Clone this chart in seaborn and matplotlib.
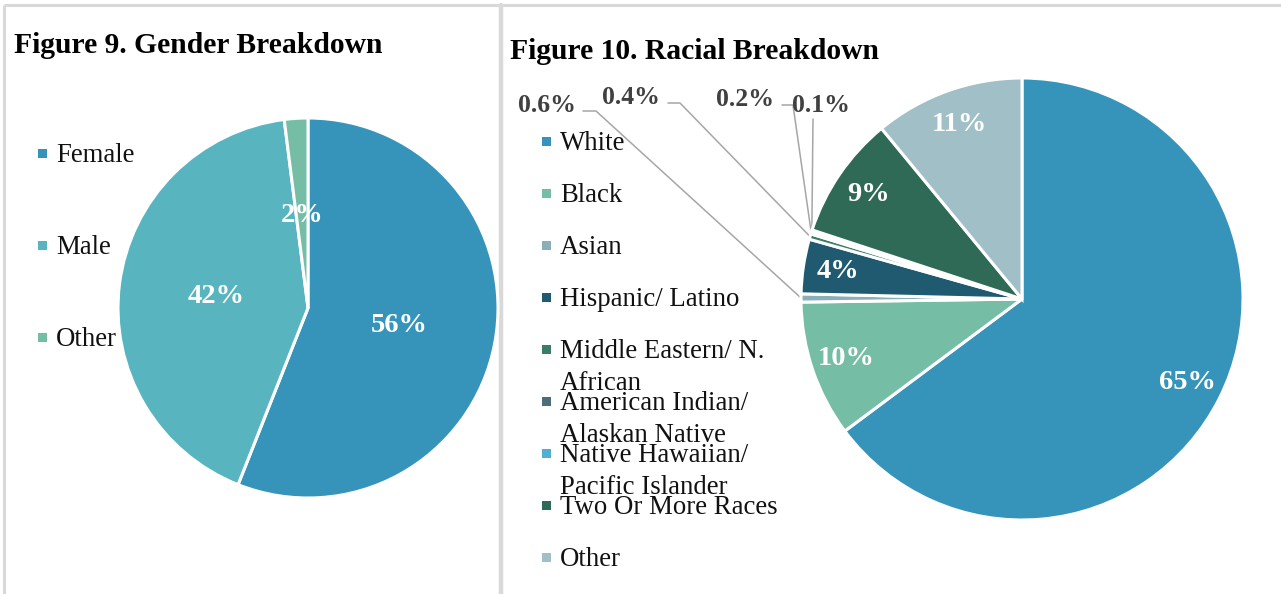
import matplotlib
matplotlib.use("Agg")
import matplotlib.pyplot as plt
import numpy as np
import seaborn as sns

# ---- data -------------------------------------------------------------
gender_labels = ["Female", "Male", "Other"]
gender_values = [56, 42, 2]
gender_colors = ["#3694BB", "#58B5BF", "#76BDA6"]

race_labels = [
    "White",
    "Black",
    "Asian",
    "Hispanic/ Latino",
    "Middle Eastern/ N.\nAfrican",
    "American Indian/\nAlaskan Native",
    "Native Hawaiian/\nPacific Islander",
    "Two Or More Races",
    "Other",
]
race_values = [65, 10, 0.6, 4, 0.4, 0.2, 0.1, 9, 11]
race_colors = ["#3694BB", "#76BDA6", "#8AAFB9", "#1F5A70", "#3A7D66",
               "#4A6F7A", "#52AED3", "#2F6A56", "#A0BFC6"]

# ---- style ------------------------------------------------------------
sns.set_theme(style="white")
plt.rcParams["font.family"] = ["Liberation Serif", "DejaVu Serif"]

W, H = 1281, 594
fig = plt.figure(figsize=(W / 100, H / 100), dpi=100)
fig.patch.set_facecolor("white")

# background layer in pixel units for frame, titles and legends
bg = fig.add_axes([0, 0, 1, 1])
bg.set_xlim(0, W)
bg.set_ylim(H, 0)
bg.axis("off")

frame_kw = dict(color="#D9D9D9", lw=2.2, solid_capstyle="butt")
bg.plot([4, W], [5, 5], **frame_kw)
bg.plot([4, 4], [5, H], **frame_kw)
bg.plot([501, 501], [5, H], lw=3.2, color="#D9D9D9")

bg.text(14, 53, "Figure 9. Gender Breakdown", fontsize=21.3, fontweight="bold",
        va="baseline", ha="left", color="black")
bg.text(510, 59, "Figure 10. Racial Breakdown", fontsize=21.3, fontweight="bold",
        va="baseline", ha="left", color="black")

LEG_FS = 19.3
LEG_LINE = 32      # distance between wrapped lines, pixels
LEG_SPACING = 1.38


def draw_legend(labels, colors, x0, y0, step):
    for i, (lab, col) in enumerate(zip(labels, colors)):
        yc = y0 + i * step
        n_lines = lab.count("\n") + 1
        bg.add_patch(plt.Rectangle((x0, yc - 4.5), 9, 9, color=col, lw=0))
        # baseline alignment refers to the last line of a wrapped label
        bg.text(x0 + 18, yc + 8.5 + (n_lines - 1) * LEG_LINE, lab,
                fontsize=LEG_FS, va="baseline", ha="left", color="#111111",
                linespacing=LEG_SPACING)


draw_legend(gender_labels, gender_colors, 38, 153, 92)
draw_legend(race_labels, race_colors, 542, 141, 52.1)


def pie_axes(cx, cy, r):
    ax = fig.add_axes([(cx - r) / W, (H - cy - r) / H, 2 * r / W, 2 * r / H])
    return ax


def draw_pie(ax, values, colors):
    wedges, _ = ax.pie(values, colors=colors, startangle=90, counterclock=False,
                       radius=1.0, normalize=True,
                       wedgeprops=dict(edgecolor="white", linewidth=2.2))
    for w in wedges:
        w.set_clip_on(False)
    ax.set_xlim(-1, 1)
    ax.set_ylim(-1, 1)
    ax.set_aspect("equal")
    ax.axis("off")
    return wedges


def mid_point(w, frac):
    ang = np.deg2rad((w.theta1 + w.theta2) / 2)
    return frac * np.cos(ang), frac * np.sin(ang)


# ---- gender pie ---------------------------------------------------------
ax1 = pie_axes(308, 308, 190)
wedges1 = draw_pie(ax1, gender_values, gender_colors)
for w, v in zip(wedges1, gender_values):
    x, y = mid_point(w, 0.49)
    ax1.text(x, y, f"{v:g}%", ha="center", va="center", fontsize=20.5,
             fontweight="bold", color="white")

# ---- race pie -----------------------------------------------------------
ax2 = pie_axes(1022, 299, 221)
wedges2 = draw_pie(ax2, race_values, race_colors)

# outside label placements (pixels) for the thin slices:
# label centre, start of the leader line, elbow of the leader line
leaders = {
    2: ((547, 106), (583, 111), (596, 111)),
    4: ((631, 98), (668, 103), (680, 103)),
    5: ((745, 100), (782, 105), (793, 105)),
    6: ((821, 105), (813, 119), (813, 119)),
}

to_bg = bg.transData.inverted()
for i, (w, v) in enumerate(zip(wedges2, race_values)):
    if v >= 1:
        x, y = mid_point(w, 0.84)
        ax2.text(x, y, f"{v:g}%", ha="center", va="center", fontsize=20.5,
                 fontweight="bold", color="white")
    else:
        (lx, ly), start, elbow = leaders[i]
        ex, ey = mid_point(w, 1.0)
        end = to_bg.transform(ax2.transData.transform((ex, ey)))
        xs = [start[0], elbow[0], end[0]]
        ys = [start[1], elbow[1], end[1]]
        bg.plot(xs, ys, color="#A6A6A6", lw=1.1)
        bg.text(lx, ly, f"{v:g}%", ha="center", va="center", fontsize=18.5,
                fontweight="bold", color="#404040")

fig.savefig("out.png", dpi=100, facecolor="white")
